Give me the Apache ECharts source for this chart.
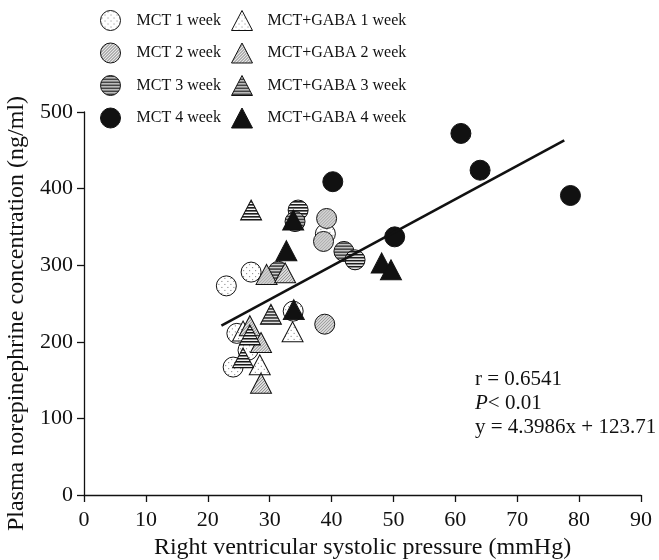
<!DOCTYPE html>
<html><head><meta charset="utf-8">
<script src="https://cdn.jsdelivr.net/npm/echarts@6/dist/echarts.min.js"></script>
<style>html,body{margin:0;padding:0;background:#fff}#c{width:659px;height:560px}</style>
</head><body><div id="c"></div>
<script>
// ---- data (x: RVSP mmHg, y: norepinephrine ng/ml) ----
const mct1 = [[23.0,273],[27.0,291],[24.7,211],[26.5,189],[24.1,167],[33.8,240],[39.0,341]];
const mct2 = [[39.2,361],[38.7,331],[38.9,223]];
const mct3 = [[34.6,372],[34.1,357],[31.4,292],[42.0,318],[43.8,307]];
const mct4 = [[40.2,409],[50.2,337],[60.9,472],[64.0,424],[78.6,391]];
const gaba1 = [[33.7,213],[25.7,214],[28.4,170]];
const gaba2 = [[29.5,288],[32.5,290],[26.8,221],[28.6,199],[28.6,146]];
const gaba3 = [[27.0,372],[30.2,236],[26.8,209],[25.7,179]];
const gaba4 = [[33.8,359],[32.7,319],[33.9,242],[48.1,303],[49.6,294]];
const fitLine = [[22.2,221],[77.6,463]];
const xTicks = [0,10,20,30,40,50,60,70,80,90];
const yTicks = [0,100,200,300,400,500];
const names = ['MCT 1 week','MCT 2 week','MCT 3 week','MCT 4 week',
  'MCT+GABA 1 week','MCT+GABA 2 week','MCT+GABA 3 week','MCT+GABA 4 week'];
const statsText = ['r = 0.6541','{i|P}< 0.01','y = 4.3986x + 123.71'];

// ---- fill patterns ----
const canv={};
function mk(kind){
  const c=document.createElement('canvas');
  const g=c.getContext('2d');
  if(kind==='sparse'){c.width=6;c.height=6;g.fillStyle='#fff';g.fillRect(0,0,6,6);
    g.fillStyle='#777';g.fillRect(1,1,1,1);g.fillRect(4,4,1,1);}
  else if(kind==='dense'){c.width=3;c.height=3;g.fillStyle='#e8e8e8';g.fillRect(0,0,3,3);
    g.fillStyle='#7a7a7a';g.fillRect(0,0,1,1);g.fillRect(1,2,1,1);g.fillRect(2,1,1,1);}
  else {c.width=4;c.height=3;g.fillStyle='#fff';g.fillRect(0,0,4,3);
    g.fillStyle='#111';g.fillRect(0,0,4,1);g.fillStyle='#777';g.fillRect(0,1,4,1);}
  return c;
}
['sparse','dense','stripes'].forEach(k=>canv[k]=mk(k));
function pat(kind,sx,sy){return {image:canv[kind],repeat:'repeat',scaleX:sx,scaleY:sy};}
const kinds=['sparse','dense','stripes',null];
const CS=20, TW=21, TH=20;
const font='Liberation Serif';
const datasets=[mct1,mct2,mct3,mct4,gaba1,gaba2,gaba3,gaba4];
function fillFor(i,scaled){
  const k=kinds[i%4]; if(!k) return '#111';
  if(!scaled) return pat(k,1,1);
  return i<4?pat(k,2/CS,2/CS):pat(k,2/TW,2/TH);
}
const series=datasets.map((d,i)=>({
  name:names[i], type:'scatter', data:d,
  symbol: i<4?'circle':'triangle', symbolSize: i<4?CS:[TW,TH],
  itemStyle:{color:fillFor(i,true), borderColor:'#111', borderWidth:1, opacity:1},
  emphasis:{disabled:true}
}));
series.push({type:'line',data:fitLine,symbol:'none',lineStyle:{color:'#111',width:2.6},z:5,silent:true});

const legendData=names.map((n,i)=>({name:n,itemStyle:{color:fillFor(i,false),borderColor:'#111',borderWidth:1}}));
const chart=echarts.init(document.getElementById('c'),null,{renderer:'canvas'});
chart.setOption({
  animation:false,
  textStyle:{fontFamily:font},
  grid:{left:84,right:18,top:112,bottom:65,containLabel:false,outerBoundsMode:'none'},
  legend:[
    {data:legendData.slice(0,4),orient:'vertical',left:95,top:5,itemWidth:CS,itemHeight:CS,itemGap:11.5,
     textStyle:{fontFamily:font,fontSize:16,color:'#111',padding:[0,0,0,11]},selectedMode:false},
    {data:legendData.slice(4),orient:'vertical',left:226,top:5,itemWidth:TW,itemHeight:TH,itemGap:11.5,
     textStyle:{fontFamily:font,fontSize:16,color:'#111',padding:[0,0,0,10]},selectedMode:false}
  ],
  xAxis:{type:'value',min:xTicks[0],max:xTicks[xTicks.length-1],interval:10,
    name:'Right ventricular systolic pressure (mmHg)',nameLocation:'middle',nameGap:39,
    nameTextStyle:{fontFamily:font,fontSize:24,color:'#111'},
    axisLine:{onZero:false,lineStyle:{color:'#111',width:1.3}},
    axisTick:{show:true,inside:false,length:7,lineStyle:{color:'#111',width:1.3}},
    axisLabel:{fontFamily:font,fontSize:22,color:'#111',margin:14},
    splitLine:{show:false}},
  yAxis:{type:'value',min:yTicks[0],max:yTicks[yTicks.length-1],interval:100,
    name:'Plasma norepinephrine concentration (ng/ml)',nameLocation:'middle',nameGap:51,
    nameTextStyle:{fontFamily:font,fontSize:24,color:'#111',padding:[0,20,0,0]},
    axisLine:{onZero:false,lineStyle:{color:'#111',width:1.3}},
    axisTick:{show:true,inside:false,length:7,lineStyle:{color:'#111',width:1.3}},
    axisLabel:{fontFamily:font,fontSize:22,color:'#111',margin:11},
    splitLine:{show:false}},
  graphic:[{type:'text',left:475,top:367,style:{
    text:statsText.join('\n'),fontFamily:font,fontSize:21,lineHeight:24,fill:'#111',
    rich:{i:{fontStyle:'italic',fontFamily:font,fontSize:21}}}}],
  series:series
});
</script></body></html>
